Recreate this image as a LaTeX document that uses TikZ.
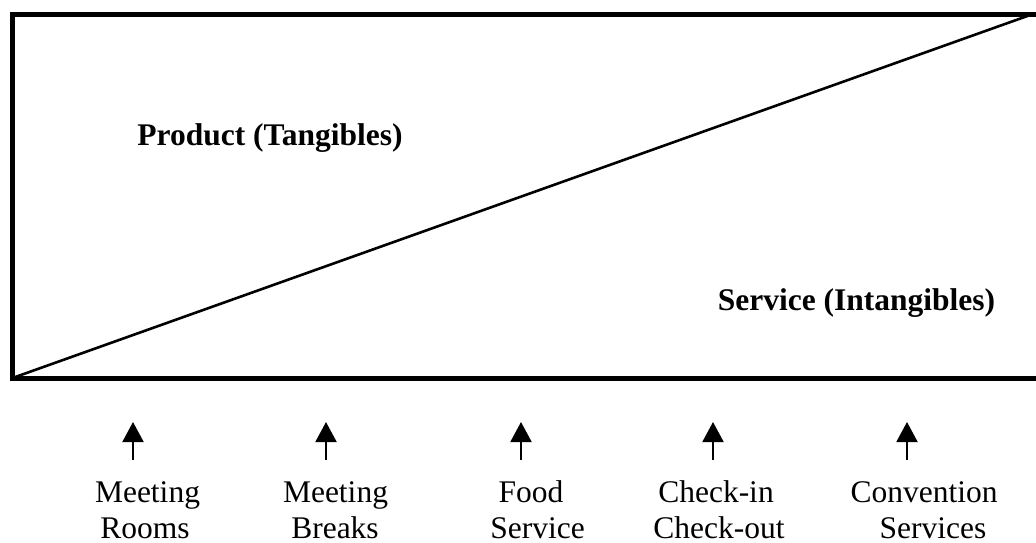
\documentclass[tikz,border=0pt]{standalone}
\usepackage{fontspec}
\setmainfont{Liberation Serif}
\usetikzlibrary{arrows.meta}
\begin{document}
\begin{tikzpicture}[x=1pt,y=-1pt,
  frame/.style={line width=5pt, line join=miter},
  split/.style={line width=2.6pt},
  tag/.style={font=\fontsize{31.5}{36}\selectfont, inner sep=0pt, anchor=base},
  region/.style={font=\fontsize{31.5}{36}\selectfont\bfseries, inner sep=0pt, anchor=base},
  uparrow/.style={line width=2pt, -{Triangle[width=21pt,length=20pt]}}]
\useasboundingbox (0,0) rectangle (1036,542);

% open frame and the product/service divide
\coordinate (tl) at (12.5,14);
\coordinate (bl) at (12.5,378);
\coordinate (tr) at (1036,14);
\coordinate (br) at (1036,378);
\coordinate (apex) at (1033,14);
\draw[frame] (tr) -- (tl) -- (bl) -- (br);
\draw[split] (bl) -- (apex);

\node[region] (prod) at (270,145) {Product (Tangibles)};
\node[region] (serv) at (856.5,310) {Service (Intangibles)};

% items along the scale
\node[tag] (m1a) at (147.5,502) {Meeting};
\node[tag] (m1b) at (145,538) {Rooms};
\node[tag] (m2a) at (335.5,502) {Meeting};
\node[tag] (m2b) at (335,538) {Breaks};
\node[tag] (m3a) at (531,502) {Food};
\node[tag] (m3b) at (537.5,538) {Service};
\node[tag] (m4a) at (716,502) {Check-in};
\node[tag] (m4b) at (719,538) {Check-out};
\node[tag] (m5a) at (924,502) {Convention};
\node[tag] (m5b) at (933,538) {Services};

\foreach \i/\x in {1/133,2/326,3/521,4/713,5/907}{
  \coordinate (tail\i) at (\x,460);
  \coordinate (tip\i) at (\x,422);
  \draw[uparrow] (tail\i) -- (tip\i);
}
\end{tikzpicture}
\end{document}
